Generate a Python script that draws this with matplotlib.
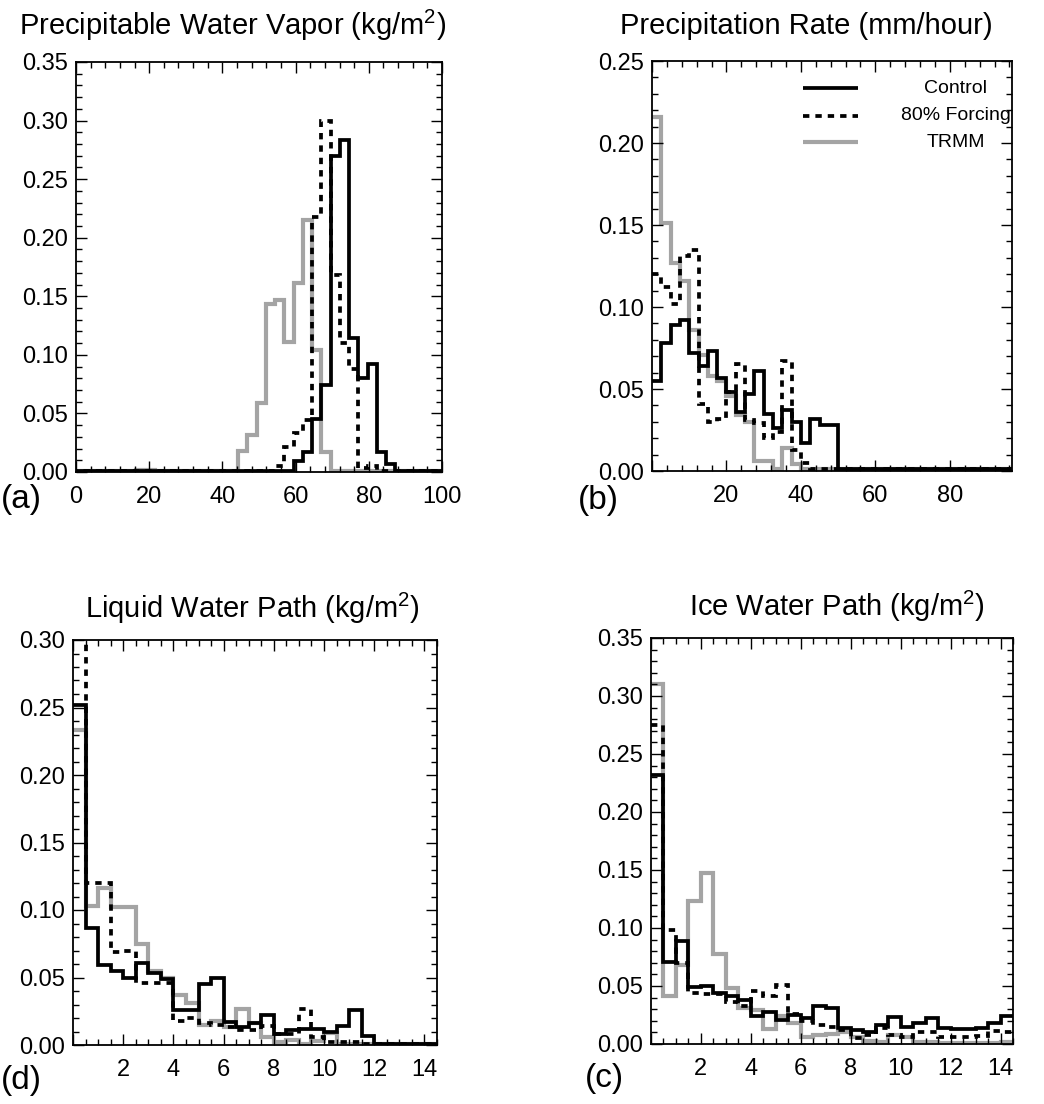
import numpy as np
import matplotlib
matplotlib.use("Agg")
import matplotlib.pyplot as plt
from matplotlib.ticker import MultipleLocator, FixedLocator, FormatStrFormatter

plt.rcParams["font.family"] = ["Liberation Sans", "DejaVu Sans"]
plt.rcParams["mathtext.fontset"] = "custom"
plt.rcParams["mathtext.rm"] = "Liberation Sans"
plt.rcParams["mathtext.default"] = "regular"

# ---------------- data: normalised frequency per bin ----------------
series_names = ["Control", "80% Forcing", "TRMM"]

# (a) precipitable water vapour, bins centred on multiples of 2.53 kg/m2
pwv_bin_width = 2.53
pwv_control = [0.001, 0.001, 0.001, 0.001, 0.001, 0.001, 0.001, 0.001, 0.001, 0.001,
               0.001, 0.001, 0.001, 0.001, 0.001, 0.001, 0.001, 0.001, 0.001, 0.001,
               0.001, 0.001, 0.001, 0.001, 0.009, 0.017, 0.045, 0.074, 0.270, 0.283,
               0.114, 0.080, 0.092, 0.017, 0.007, 0.001, 0.001, 0.001, 0.001, 0.001]
pwv_forcing = [0.001, 0.001, 0.001, 0.001, 0.001, 0.001, 0.001, 0.001, 0.001, 0.001,
               0.001, 0.001, 0.001, 0.001, 0.001, 0.001, 0.001, 0.001, 0.001, 0.001,
               0.001, 0.001, 0.005, 0.021, 0.033, 0.044, 0.218, 0.300, 0.168, 0.110,
               0.088, 0.003, 0.005, 0.001, 0.001, 0.001, 0.001, 0.001, 0.001, 0.001]
pwv_trmm = [0.001, 0.001, 0.001, 0.001, 0.001, 0.001, 0.001, 0.002, 0.002, 0.001,
            0.001, 0.001, 0.001, 0.001, 0.001, 0.001, 0.001, 0.001, 0.018, 0.032,
            0.059, 0.143, 0.147, 0.111, 0.161, 0.215, 0.104, 0.017, 0.001, 0.001,
            0.001, 0.001, 0.001, 0.001, 0.001, 0.001, 0.001, 0.001, 0.001, 0.001]

# (b) precipitation rate, 2.5 mm/hour bins starting at 0
rain_bin_width = 2.5
rain_control = [0.055, 0.078, 0.089, 0.092, 0.072, 0.064, 0.073, 0.057, 0.048, 0.036,
                0.047, 0.061, 0.035, 0.026, 0.037, 0.030, 0.017, 0.032, 0.028, 0.028,
                0.001, 0.001, 0.001, 0.001, 0.001, 0.001, 0.001, 0.001, 0.001, 0.001,
                0.001, 0.001, 0.001, 0.001, 0.001, 0.001, 0.001, 0.001, 0.001]
rain_forcing = [0.120, 0.112, 0.102, 0.131, 0.135, 0.041, 0.030, 0.032, 0.048, 0.065,
                0.031, 0.029, 0.020, 0.024, 0.067, 0.013, 0.005, 0.001, 0.001, 0.001,
                0.001, 0.001, 0.001, 0.001, 0.001, 0.001, 0.001, 0.001, 0.001, 0.001,
                0.001, 0.001, 0.001, 0.001, 0.001, 0.001, 0.001, 0.001, 0.001]
rain_trmm = [0.216, 0.151, 0.127, 0.116, 0.086, 0.071, 0.058, 0.055, 0.046, 0.034,
             0.030, 0.006, 0.006, 0.0015, 0.014, 0.004, 0.001, 0.001, 0.001, 0.001,
             0.001, 0.001, 0.001, 0.001, 0.001, 0.001, 0.001, 0.001, 0.001, 0.001,
             0.001, 0.001, 0.001, 0.001, 0.001, 0.001, 0.001, 0.001, 0.001]

# (d) liquid water path, 0.5 kg/m2 bins starting at 0
lwp_bin_width = 0.5
lwp_control = [0.252, 0.087, 0.059, 0.055, 0.050, 0.061, 0.053, 0.049, 0.026, 0.026,
               0.045, 0.050, 0.017, 0.013, 0.016, 0.022, 0.008, 0.011, 0.012, 0.012,
               0.010, 0.014, 0.026, 0.007, 0.001, 0.001, 0.001, 0.001, 0.001]
lwp_forcing = [0.305, 0.120, 0.120, 0.069, 0.070, 0.046, 0.046, 0.046, 0.018, 0.020,
               0.016, 0.015, 0.013, 0.011, 0.011, 0.014, 0.008, 0.008, 0.027, 0.006,
               0.002, 0.002, 0.002, 0.001, 0.001, 0.001, 0.001, 0.001, 0.001]
lwp_trmm = [0.233, 0.103, 0.116, 0.102, 0.102, 0.075, 0.055, 0.050, 0.037, 0.031,
            0.015, 0.018, 0.013, 0.027, 0.016, 0.006, 0.002, 0.004, 0.001, 0.003,
            0.009, 0.001, 0.001, 0.001, 0.001, 0.001, 0.001, 0.001, 0.001]

# (c) ice water path, 0.5 kg/m2 bins starting at 0
iwp_bin_width = 0.5
iwp_control = [0.232, 0.071, 0.089, 0.049, 0.050, 0.044, 0.041, 0.038, 0.024, 0.028,
               0.021, 0.025, 0.022, 0.033, 0.031, 0.014, 0.012, 0.010, 0.016, 0.023,
               0.015, 0.018, 0.022, 0.014, 0.013, 0.013, 0.014, 0.018, 0.024]
iwp_forcing = [0.275, 0.098, 0.070, 0.044, 0.043, 0.043, 0.036, 0.033, 0.046, 0.041,
               0.051, 0.026, 0.020, 0.016, 0.015, 0.012, 0.005, 0.008, 0.014, 0.008,
               0.006, 0.010, 0.010, 0.006, 0.006, 0.006, 0.007, 0.011, 0.010]
iwp_trmm = [0.310, 0.041, 0.068, 0.123, 0.147, 0.078, 0.048, 0.031, 0.029, 0.013,
            0.024, 0.018, 0.006, 0.008, 0.009, 0.010, 0.006, 0.003, 0.002, 0.008,
            0.006, 0.002, 0.002, 0.001, 0.001, 0.001, 0.001, 0.001, 0.002]

# ---------------- figure ----------------
W, H = 1044, 1104
fig = plt.figure(figsize=(W / 100, H / 100), dpi=100)


def axes_px(left, top, right, bottom):
    return fig.add_axes([left / W, 1 - bottom / H, (right - left) / W, (bottom - top) / H])


styles = {
    "Control": dict(color="black", lw=2.7, ls="-"),
    "80% Forcing": dict(color="black", lw=2.7, ls=(0, (1.7, 1.6))),
    "TRMM": dict(color="#a4a4a4", lw=3.0, ls="-"),
}


def draw_panel(ax, edges, control, forcing, trmm):
    for name, vals in (("TRMM", trmm), ("Control", control), ("80% Forcing", forcing)):
        st = styles[name]
        ax.stairs(vals, edges, baseline=None, color=st["color"], lw=st["lw"],
                  ls=st["ls"], joinstyle="miter", capstyle="butt")


def style_axes(ax, xlim, ylim, xmajor, xminor, xlabels, ymajor):
    ax.set_xlim(*xlim)
    ax.set_ylim(*ylim)
    ax.xaxis.set_major_locator(FixedLocator(xmajor))
    ax.set_xticklabels(xlabels)
    ax.xaxis.set_minor_locator(MultipleLocator(xminor))
    ax.yaxis.set_major_locator(FixedLocator(ymajor))
    ax.yaxis.set_minor_locator(MultipleLocator(0.01))
    ax.yaxis.set_major_formatter(FormatStrFormatter("%.2f"))
    ax.tick_params(which="both", direction="in", top=True, right=True,
                   labelsize=17, width=1.0)
    ax.tick_params(which="major", length=8)
    ax.tick_params(which="minor", length=4)
    ax.tick_params(axis="x", which="major", pad=10)
    ax.tick_params(axis="y", which="major", pad=6)
    for sp in ax.spines.values():
        sp.set_linewidth(1.3)


# (a)
ax_a = axes_px(76, 62, 442, 472)
pwv_edges = (np.arange(len(pwv_control) + 1) - 0.5) * pwv_bin_width
draw_panel(ax_a, pwv_edges, pwv_control, pwv_forcing, pwv_trmm)
style_axes(ax_a, (0, 100), (0, 0.35), [0, 20, 40, 60, 80, 100], 4,
           ["0", "20", "40", "60", "80", "100"], np.arange(0, 0.351, 0.05))

# (b)
ax_b = axes_px(652, 61, 1012, 471)
rain_edges = np.arange(len(rain_control) + 1) * rain_bin_width
draw_panel(ax_b, rain_edges, rain_control, rain_forcing, rain_trmm)
style_axes(ax_b, (0, 96.7), (0, 0.25), [0, 20, 40, 60, 80], 4,
           ["", "20", "40", "60", "80"], np.arange(0, 0.251, 0.05))

# (d)
ax_d = axes_px(73, 640, 437, 1045)
lwp_edges = np.arange(len(lwp_control) + 1) * lwp_bin_width
draw_panel(ax_d, lwp_edges, lwp_control, lwp_forcing, lwp_trmm)
style_axes(ax_d, (0, 14.5), (0, 0.30), [0, 2, 4, 6, 8, 10, 12, 14], 0.5,
           ["", "2", "4", "6", "8", "10", "12", "14"], np.arange(0, 0.301, 0.05))

# (c)
ax_c = axes_px(651, 638, 1013, 1044)
iwp_edges = np.arange(len(iwp_control) + 1) * iwp_bin_width
draw_panel(ax_c, iwp_edges, iwp_control, iwp_forcing, iwp_trmm)
style_axes(ax_c, (0, 14.5), (0, 0.35), [0, 2, 4, 6, 8, 10, 12, 14], 0.5,
           ["", "2", "4", "6", "8", "10", "12", "14"], np.arange(0, 0.351, 0.05))

# legend keys inside (b)
key_rows = [0.934, 0.866, 0.802]
for name, yk in zip(series_names, key_rows):
    st = styles[name]
    ax_b.plot([0.419, 0.572], [yk, yk], transform=ax_b.transAxes, color=st["color"],
              lw=st["lw"], ls=st["ls"], solid_capstyle="butt", dash_capstyle="butt")
    ax_b.text(0.844, yk, name, transform=ax_b.transAxes, ha="center", va="center",
              fontsize=14, clip_on=False)

# titles
titles = [
    ("Precipitable Water Vapor (kg/m$^2$)", 233, 25),
    ("Precipitation Rate (mm/hour)", 806, 26),
    ("Liquid Water Path (kg/m$^2$)", 252, 608),
    ("Ice Water Path (kg/m$^2$)", 837, 606),
]
for txt, x, y in titles:
    fig.text(x / W, 1 - y / H, txt, ha="center", va="center", fontsize=21)

# panel letters
letters = [("(a)", 1, 499), ("(b)", 578, 501), ("(d)", 1, 1080), ("(c)", 585, 1078)]
for txt, x, y in letters:
    fig.text(x / W, 1 - y / H, txt, ha="left", va="center", fontsize=24)

fig.savefig("out.png", dpi=100, facecolor="white")
